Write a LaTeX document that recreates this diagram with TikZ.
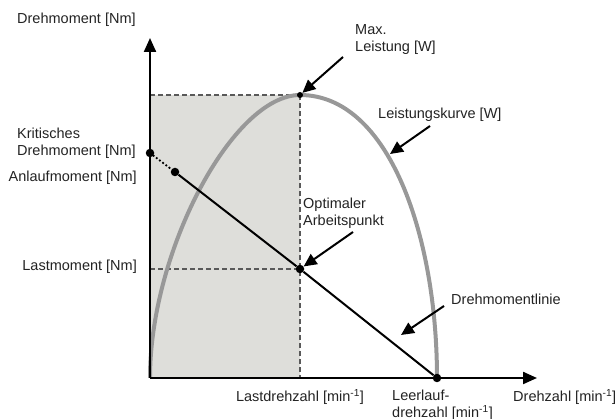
\documentclass[tikz,border=0pt]{standalone}
\usepackage{fontspec}
\setmainfont{Liberation Sans}
\usetikzlibrary{arrows.meta}

\definecolor{areagray}{RGB}{222,222,218}
\definecolor{curvegray}{RGB}{152,152,152}
\definecolor{labeltext}{RGB}{35,35,35}

\begin{document}
\begin{tikzpicture}[
    x=1pt, y=-1pt,
    axis line/.style={
        line width=2.2pt,
        -{Triangle[length=14pt,width=12pt]}
    },
    guide/.style={
        dash pattern=on 5pt off 3pt,
        gray!70!black,
        line width=1.4pt
    },
    power curve/.style={
        curvegray,
        line width=4pt
    },
    torque line/.style={
        black,
        line width=2pt
    },
    point dot/.style={
        circle,
        fill=black,
        inner sep=0pt,
        minimum size=8.5pt
    },
    pointer/.style={
        line width=2pt,
        -{Triangle[length=13pt,width=12pt]}
    },
    txt/.style={
        font=\fontsize{14.5}{17}\selectfont,
        text=labeltext,
        inner sep=0pt,
        align=left
    }
]

\useasboundingbox (0,0) rectangle (616,419);

\def\xO{150}
\def\yO{378}
\def\xL{300}
\def\xN{437}

%% --- Bereich unter der Lastdrehzahl ---
\fill[areagray] (\xO,95) rectangle (\xL,\yO);

%% --- Punkte ---
\coordinate (origin) at (\xO,\yO);
\coordinate (ytip)   at (\xO,38);
\coordinate (xtip)   at (537,\yO);
\coordinate (ymax)   at (\xO,95);
\coordinate (xlast)  at (\xL,\yO);
\coordinate (ylast)  at (\xO,269);

%% --- Hilfslinien ---
\draw[guide] (ymax) -- (\xL,95);
\draw[guide] (\xL,95) -- (xlast);
\draw[guide] (ylast) -- (\xL,269);

%% --- Leistungskurve ---
\draw[power curve] (origin) .. controls (\xO,251) and (233,95) .. (\xL,95)
                   .. controls (389,95) and (\xN,236) .. (\xN,\yO);

%% --- Achsen ---
\draw[axis line] (origin) -- (ytip);
\draw[axis line] (origin) -- (xtip);

%% --- Drehmomentlinie ---
\node[point dot] (kritisch) at (\xO,153) {};
\node[point dot] (anlauf)   at (175,172) {};
\node[point dot] (opt)      at (\xL,269) {};
\node[point dot] (leer)     at (\xN,\yO) {};
\node[point dot, minimum size=6pt] (peak) at (\xL,95) {};

\draw[torque line, line width=2.6pt, line cap=round, dash pattern=on 0pt off 4pt] (kritisch) -- (anlauf);
\draw[torque line] (anlauf) -- (opt) -- (leer);

%% --- Beschriftungen ---
\node[txt, anchor=west] (ylabel)   at (17,20)   {Drehmoment [Nm]};
\node[txt, anchor=west] (tkrit)    at (17,143)  {Kritisches\\Drehmoment [Nm]};
\node[txt, anchor=east] (tanlauf)  at (137,178) {Anlaufmoment [Nm]};
\node[txt, anchor=east] (tlast)    at (137,267) {Lastmoment [Nm]};
\node[txt]              (nlast)    at (\xL,397) {Lastdrehzahl [min\textsuperscript{-1}]};
\node[txt, anchor=west] (nleer)    at (392,405) {Leerlauf-\\drehzahl [min\textsuperscript{-1}]};
\node[txt, anchor=west] (xlabel)   at (513,397) {Drehzahl [min\textsuperscript{-1}]};
\node[txt, anchor=west] (tmax)     at (355,40)  {Max.\\Leistung [W]};
\node[txt, anchor=west] (tkurve)   at (378,115) {Leistungskurve [W]};
\node[txt, anchor=west] (topt)     at (303,213) {Optimaler\\Arbeitspunkt};
\node[txt, anchor=west] (tlinie)   at (451,299) {Drehmomentlinie};

%% --- Hinweispfeile ---
\coordinate (amax)   at (343,57);
\coordinate (akurve) at (430,126);
\coordinate (aopt)   at (353,232);
\coordinate (alinie) at (444,306);
\coordinate (pkurve) at (390,154);
\coordinate (plinie) at (401,335);

\draw[pointer] (amax) -- (peak);
\draw[pointer] (akurve) -- (pkurve);
\draw[pointer] (aopt) -- (opt);
\draw[pointer] (alinie) -- (plinie);

\end{tikzpicture}
\end{document}
